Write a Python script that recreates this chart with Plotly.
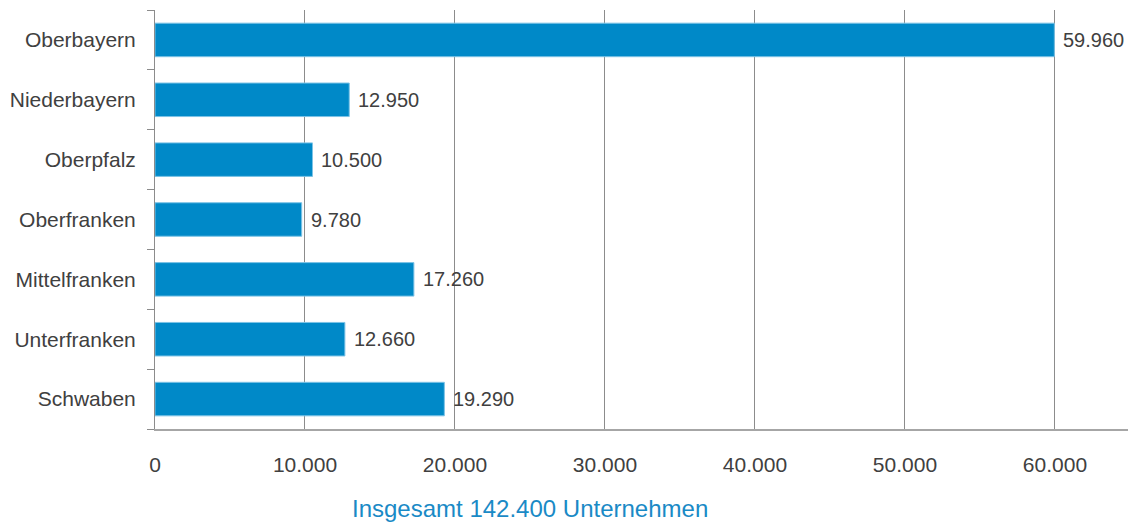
import plotly.graph_objects as go

regions = ["Oberbayern", "Niederbayern", "Oberpfalz", "Oberfranken",
           "Mittelfranken", "Unterfranken", "Schwaben"]
companies = [59960, 12950, 10500, 9780, 17260, 12660, 19290]
x_ticks = [0, 10000, 20000, 30000, 40000, 50000, 60000]
x_tick_labels = ["0", "10.000", "20.000", "30.000", "40.000", "50.000", "60.000"]
total_label = "Insgesamt 142.400 Unternehmen"

FONT = "Liberation Sans, Arial, sans-serif"
GREY_TEXT = "#404040"
BLUE = "#0089c8"

fig = go.Figure(
    go.Bar(
        x=companies,
        y=regions,
        orientation="h",
        marker=dict(color=BLUE, line=dict(color="#7cc3e6", width=1)),
    )
)

# value labels right of each bar
for region, value in zip(regions, companies):
    fig.add_annotation(
        x=value, y=region,
        text=f"{value:,}".replace(",", "."),
        xanchor="left", xshift=7,
        showarrow=False,
        font=dict(size=20, color=GREY_TEXT, family=FONT),
    )

fig.update_layout(
    width=1128,
    height=524,
    margin=dict(l=155, r=0, t=10, b=95, autoexpand=False),
    plot_bgcolor="white",
    paper_bgcolor="white",
    bargap=0.44,
    showlegend=False,
    font=dict(family=FONT, size=20, color=GREY_TEXT),
)

fig.update_xaxes(
    range=[0, 64870],
    tickvals=x_ticks,
    ticktext=x_tick_labels,
    showgrid=True,
    gridcolor="#8c8c8c",
    gridwidth=1,
    zeroline=False,
    showline=True,
    linecolor="#a6a6a6",
    linewidth=2,
    ticks="",
    ticklabelstandoff=16,
    automargin=False,
    tickfont=dict(size=21),
)

fig.update_yaxes(
    categoryorder="array",
    categoryarray=regions[::-1],
    showline=True,
    linecolor="#8c8c8c",
    linewidth=1,
    ticks="outside",
    tickson="boundaries",
    ticklen=7,
    tickcolor="#8c8c8c",
    ticklabelstandoff=14,
    showgrid=False,
    automargin=False,
    tickfont=dict(size=21),
)

fig.add_annotation(
    text=total_label,
    xref="paper", yref="paper",
    x=(530 - 155) / (1128 - 155), y=(429 - 508) / 419,
    yanchor="middle",
    showarrow=False,
    font=dict(size=24, color="#1a8ac6", family=FONT),
)

fig.write_html(
    "out.html",
    config={"displayModeBar": False},
    post_script="document.body.style.margin='0';",
)
